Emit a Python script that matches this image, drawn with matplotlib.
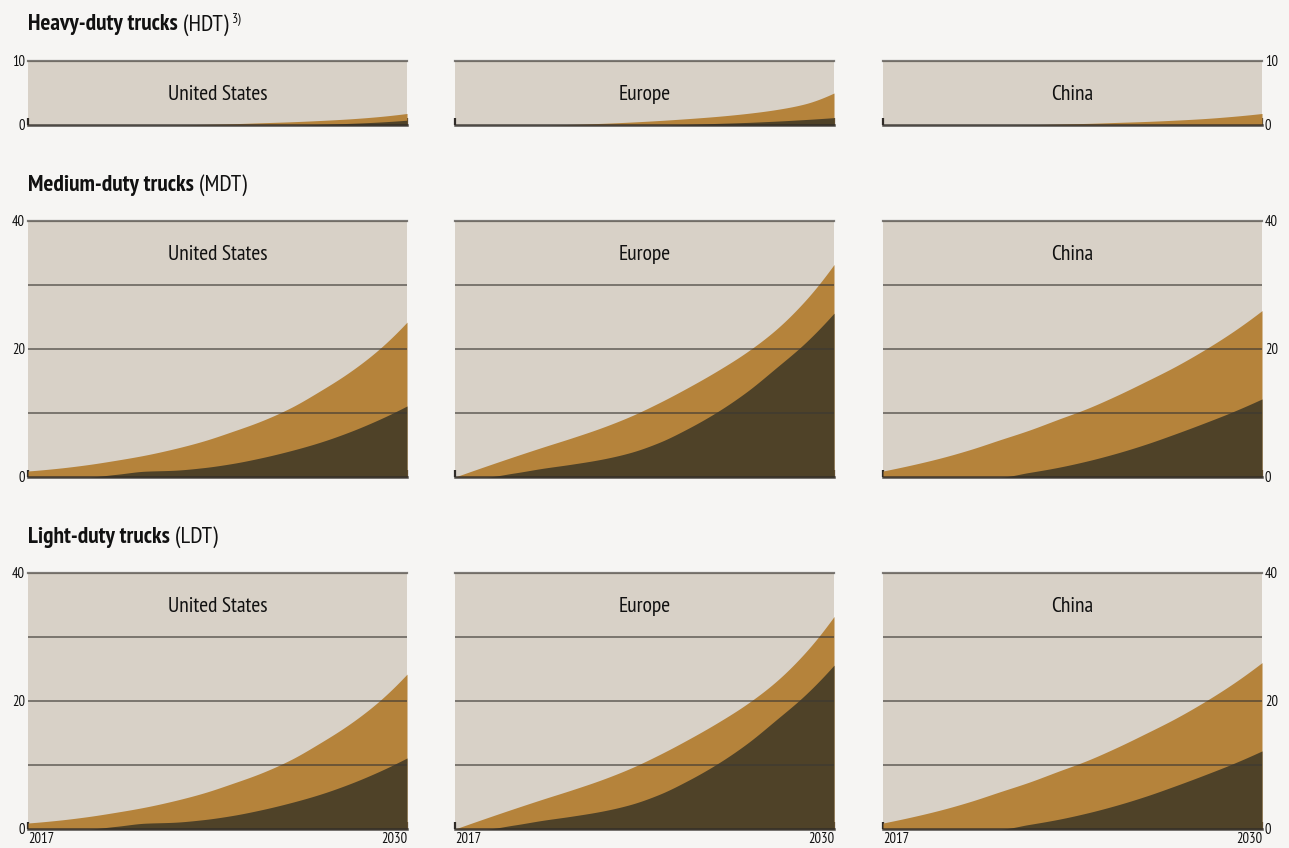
import numpy as np
import matplotlib
matplotlib.use("Agg")
import matplotlib.pyplot as plt

plt.rcParams['font.family'] = ['PT Sans Narrow', 'Fira Sans Condensed', 'Roboto Condensed',
                               'Liberation Sans Narrow', 'DejaVu Sans']

# ---- data -------------------------------------------------------------
years = [2017, 2018, 2019, 2020, 2021, 2022, 2023, 2024, 2025, 2026, 2027, 2028, 2029, 2030]
regions = ["United States", "Europe", "China"]

# Heavy-duty trucks: total share (upper band) and inner share (dark band)
hdt_total_us = [0, 0, 0, 0, 0, 0.02, 0.1, 0.2, 0.35, 0.5, 0.7, 0.95, 1.3, 1.8]
hdt_inner_us = [0, 0, 0, 0, 0, 0, 0, 0, 0, 0, 0.1, 0.25, 0.45, 0.75]
hdt_total_eu = [0, 0, 0, 0, 0.1, 0.25, 0.45, 0.7, 1.0, 1.35, 1.8, 2.4, 3.3, 5.0]
hdt_inner_eu = [0, 0, 0, 0, 0, 0, 0, 0, 0.1, 0.25, 0.4, 0.6, 0.85, 1.15]
hdt_total_cn = [0, 0, 0, 0, 0, 0.05, 0.15, 0.25, 0.4, 0.55, 0.75, 1.0, 1.35, 1.8]
hdt_inner_cn = [0, 0, 0, 0, 0, 0, 0, 0, 0, 0, 0, 0, 0, 0]

# Medium-duty trucks
mdt_total_us = [0.94, 1.35, 1.9, 2.6, 3.4, 4.4, 5.6, 7.1, 8.75, 10.8, 13.4, 16.3, 19.8, 24.2]
mdt_inner_us = [0, 0, 0, 0.4, 0.9, 1.05, 1.45, 2.1, 3.0, 4.1, 5.4, 7.0, 8.9, 11.1]
mdt_total_eu = [0, 1.6, 3.15, 4.65, 6.1, 7.65, 9.45, 11.6, 14.0, 16.6, 19.5, 23.0, 27.5, 33.2]
mdt_inner_eu = [0, 0, 0.6, 1.35, 2.0, 2.75, 3.8, 5.4, 7.6, 10.2, 13.3, 17.0, 20.9, 25.6]
mdt_total_cn = [0.94, 1.9, 3.0, 4.3, 5.8, 7.3, 9.0, 10.7, 12.7, 14.9, 17.2, 19.8, 22.7, 26.0]
mdt_inner_cn = [0, 0, 0, 0, 0, 0.7, 1.5, 2.5, 3.7, 5.1, 6.7, 8.4, 10.2, 12.2]

# Light-duty trucks
ldt_total_us = [0.94, 1.35, 1.9, 2.6, 3.4, 4.4, 5.6, 7.1, 8.75, 10.8, 13.4, 16.3, 19.8, 24.2]
ldt_inner_us = [0, 0, 0, 0.4, 0.9, 1.05, 1.45, 2.1, 3.0, 4.1, 5.4, 7.0, 8.9, 11.1]
ldt_total_eu = [0, 1.6, 3.15, 4.65, 6.1, 7.65, 9.45, 11.6, 14.0, 16.6, 19.5, 23.0, 27.5, 33.2]
ldt_inner_eu = [0, 0, 0.6, 1.35, 2.0, 2.75, 3.8, 5.4, 7.6, 10.2, 13.3, 17.0, 20.9, 25.6]
ldt_total_cn = [0.94, 1.9, 3.0, 4.3, 5.8, 7.3, 9.0, 10.7, 12.7, 14.9, 17.2, 19.8, 22.7, 26.0]
ldt_inner_cn = [0, 0, 0, 0, 0, 0.7, 1.5, 2.5, 3.7, 5.1, 6.7, 8.4, 10.2, 12.2]

rows = [
    dict(bold="Heavy-duty trucks", plain=" (HDT)", note="3)", ymax=10, yticks=[0, 10],
         grid=[], series=[(hdt_total_us, hdt_inner_us), (hdt_total_eu, hdt_inner_eu),
                          (hdt_total_cn, hdt_inner_cn)]),
    dict(bold="Medium-duty trucks", plain=" (MDT)", note="", ymax=40, yticks=[0, 20, 40],
         grid=[10, 20, 30], series=[(mdt_total_us, mdt_inner_us), (mdt_total_eu, mdt_inner_eu),
                                    (mdt_total_cn, mdt_inner_cn)]),
    dict(bold="Light-duty trucks", plain=" (LDT)", note="", ymax=40, yticks=[0, 20, 40],
         grid=[10, 20, 30], series=[(ldt_total_us, ldt_inner_us), (ldt_total_eu, ldt_inner_eu),
                                    (ldt_total_cn, ldt_inner_cn)]),
]

# ---- styling ----------------------------------------------------------
BG = "#f6f5f3"
PANEL = "#d8d1c7"
TOTAL_C = "#b5833b"
INNER_C = "#4f4228"
LINE_C = "#2f2b27"
TEXT_C = "#111111"
HEAD_SIZE = 16.8
TITLE_SIZE = 15.5
TICK_SIZE = 10.5


def pchip(x, y, xn):
    """Shape-preserving cubic through the given points (for smooth outlines)."""
    x = np.asarray(x, float)
    y = np.asarray(y, float)
    h = np.diff(x)
    d = np.diff(y) / h
    m = np.zeros_like(y)
    for k in range(1, len(y) - 1):
        if d[k - 1] * d[k] > 0:
            w1 = 2 * h[k] + h[k - 1]
            w2 = h[k] + 2 * h[k - 1]
            m[k] = (w1 + w2) / (w1 / d[k - 1] + w2 / d[k])

    def end_slope(h0, h1, d0, d1):
        s = ((2 * h0 + h1) * d0 - h0 * d1) / (h0 + h1)
        if np.sign(s) != np.sign(d0):
            return 0.0
        if np.sign(d0) != np.sign(d1) and abs(s) > abs(3 * d0):
            return 3 * d0
        return s

    m[0] = end_slope(h[0], h[1], d[0], d[1])
    m[-1] = end_slope(h[-1], h[-2], d[-1], d[-2])
    idx = np.clip(np.searchsorted(x, xn) - 1, 0, len(x) - 2)
    t = (xn - x[idx]) / h[idx]
    h00 = 2 * t**3 - 3 * t**2 + 1
    h10 = t**3 - 2 * t**2 + t
    h01 = -2 * t**3 + 3 * t**2
    h11 = t**3 - t**2
    return (h00 * y[idx] + h10 * h[idx] * m[idx] + h01 * y[idx + 1]
            + h11 * h[idx] * m[idx + 1])


W, H = 1289, 848
fig = plt.figure(figsize=(W / 100, H / 100), dpi=100, facecolor=BG)

col_left = [28, 455, 883]
col_w = 379
row_top = [61, 221, 573]
row_h = [64, 256, 256]
title_y = [22, 183, 535]

xs = np.linspace(years[0], years[-1], 400)
renderer = fig.canvas.get_renderer()
inv = fig.transFigure.inverted()

for r, row in enumerate(rows):
    # section heading: bold name, plain abbreviation, optional footnote mark
    tb = fig.text(28 / W, 1 - title_y[r] / H, row["bold"], fontsize=HEAD_SIZE,
                  fontweight="bold", color=TEXT_C, ha="left", va="center_baseline")
    bb = tb.get_window_extent(renderer)
    x1, _ = inv.transform((bb.x1, 0))
    tp = fig.text(x1, 1 - title_y[r] / H, row["plain"], fontsize=HEAD_SIZE, color=TEXT_C,
                  ha="left", va="center_baseline")
    if row["note"]:
        bb2 = tp.get_window_extent(renderer)
        x2, _ = inv.transform((bb2.x1 + 3, 0))
        fig.text(x2, 1 - (title_y[r] - 4) / H, row["note"], fontsize=10, color=TEXT_C,
                 ha="left", va="center_baseline")

    for c in range(3):
        ax = fig.add_axes([col_left[c] / W, 1 - (row_top[r] + row_h[r]) / H,
                           col_w / W, row_h[r] / H])
        ax.set_facecolor(PANEL)
        ax.set_xlim(years[0], years[-1])
        ax.set_ylim(0, row["ymax"])
        for s in ax.spines.values():
            s.set_visible(False)

        total, inner = row["series"][c]
        yt = np.maximum(pchip(years, total, xs), 0)
        yi = np.minimum(np.maximum(pchip(years, inner, xs), 0), yt)
        ax.fill_between(xs, 0, yt, color=TOTAL_C, lw=0, zorder=2)
        ax.fill_between(xs, 0, yi, color=INNER_C, lw=0, zorder=3)

        for g in row["grid"]:
            ax.axhline(g, color="#3c3833", alpha=0.65, lw=1.3, zorder=4)
        ax.axhline(row["ymax"], color="#3c3833", alpha=0.65, lw=1.6, zorder=4, clip_on=False)
        ax.axhline(0, color=LINE_C, alpha=0.85, lw=1.8, zorder=5, clip_on=False)

        ty = 0.5 if row["ymax"] != 40 else 0.875
        ax.text(0.5, ty, regions[c], transform=ax.transAxes, ha="center",
                va="center_baseline", fontsize=TITLE_SIZE, color=TEXT_C, zorder=6)

        # x ticks: short marks at both ends of every panel
        ax.set_xticks([years[0], years[-1]])
        ax.tick_params(axis="x", direction="in", length=5, width=1.6, color=LINE_C,
                       labelbottom=False)
        if r == 2:
            ax.text(0, -0.012, str(years[0]), transform=ax.transAxes, ha="left", va="top",
                    fontsize=TICK_SIZE, color=TEXT_C)
            ax.text(1, -0.012, str(years[-1]), transform=ax.transAxes, ha="right", va="top",
                    fontsize=TICK_SIZE, color=TEXT_C)

        ax.set_yticks(row["yticks"])
        ax.set_yticklabels([str(v) for v in row["yticks"]])
        ax.tick_params(axis="y", length=0, labelsize=TICK_SIZE, labelcolor=TEXT_C, pad=2)
        if c == 0:
            ax.tick_params(axis="y", left=False, labelleft=True, right=False, labelright=False)
        elif c == 2:
            ax.tick_params(axis="y", left=False, labelleft=False, right=False, labelright=True)
        else:
            ax.tick_params(axis="y", left=False, labelleft=False)

fig.savefig("out.png", dpi=100, facecolor=BG)
